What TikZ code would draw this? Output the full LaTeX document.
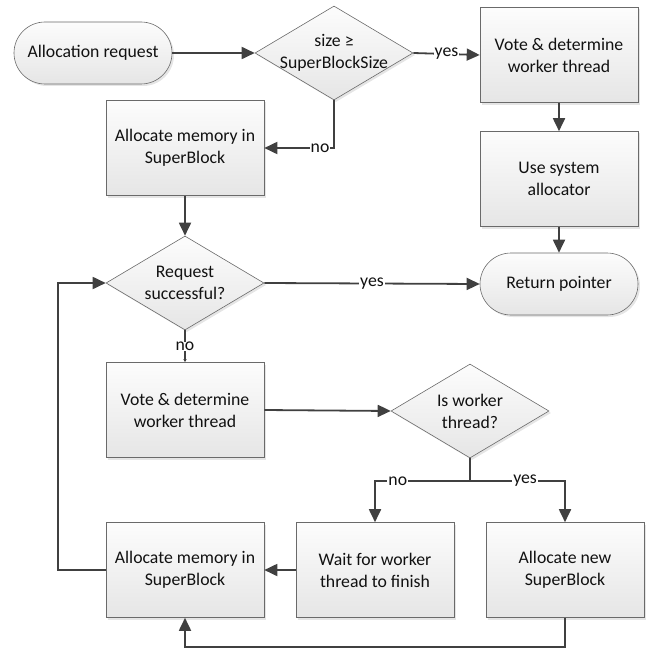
\documentclass[tikz,border=0pt]{standalone}
\usepackage{fontspec}
\setmainfont{Carlito}
\usetikzlibrary{arrows.meta,shapes.geometric,shadows}
\newcommand\myfs{\fontsize{17.8}{22}\selectfont}
\definecolor{linec}{HTML}{404040}
\definecolor{borderc}{HTML}{6A6A6A}
\definecolor{txtc}{HTML}{111111}
\tikzset{
  shade box/.style={draw=borderc, line width=0.6bp, top color=black!1, bottom color=black!10,
    drop shadow={shadow xshift=2bp, shadow yshift=-2bp, fill=black!10, opacity=1}},
  stepbox/.style={shade box, rectangle, minimum width=158bp, minimum height=95bp, inner sep=0pt,
    align=center, font=\myfs, text=txtc},
  terminal/.style={shade box, rectangle, rounded corners=31bp, minimum width=158bp, minimum height=62bp,
    inner sep=0pt, align=center, font=\myfs, text=txtc},
  decision/.style={shade box, diamond, minimum width=158bp, minimum height=94bp, inner sep=0pt},
  dtext/.style={align=center, font=\myfs, text=txtc},
  conn/.style={draw=linec, line width=1.8bp, -{Triangle[length=13bp,width=12bp]}},
  lbl/.style={font=\myfs, text=txtc, fill=white, inner sep=1bp},
}
\begin{document}
\begin{tikzpicture}[x=1bp,y=-1bp]
\useasboundingbox (0,0) rectangle (659,653);
% nodes
\node[terminal] (start) at (93,53) {Allocation request};
\node[decision] (d1) at (334,53) {};
\node[dtext] at (d1.center) {size ≥\\SuperBlockSize};
\node[stepbox] (vote1) at (559,55) {Vote \& determine\\worker thread};
\node[stepbox] (sys) at (559,179) {Use system\\allocator};
\node[terminal] (ret) at (559,284) {Return pointer};
\node[stepbox] (alloc1) at (185,148) {Allocate memory in\\SuperBlock};
\node[decision] (d2) at (185,283) {};
\node[dtext] at (d2.center) {Request\\successful?};
\node[stepbox] (vote2) at (185,410) {Vote \& determine\\worker thread};
\node[decision] (d3) at (470,411) {};
\node[dtext] at (d3.center) {Is worker\\thread?};
\node[stepbox] (wait) at (375,570) {Wait for worker\\thread to finish};
\node[stepbox] (anew) at (565,570) {Allocate new\\SuperBlock};
\node[stepbox] (alloc2) at (185,570) {Allocate memory in\\SuperBlock};
\coordinate (br) at (470,481);
\coordinate (bot) at (185,647);
\coordinate (loop) at (58,283);
% connectors
\draw[conn] (start.east) -- (d1.west);
\draw[conn] (d1.east) -- node[lbl, pos=0.5] {yes} (vote1.west);
\draw[conn] (d1.south) |- node[lbl, pos=0.6] {no} (alloc1.east);
\draw[conn] (vote1) -- (sys);
\draw[conn] (sys) -- (ret);
\draw[conn] (alloc1) -- (d2);
\draw[conn] (d2.east) -- node[lbl] {yes} (ret.west);
\draw[draw=linec, line width=1.8bp, -{Triangle[length=3bp,width=3bp]}] (d2.south) -- node[lbl, inner sep=0pt] {no} (vote2.north);
\draw[conn] (vote2.east) -- (d3.west);
\draw[draw=linec, line width=1.8bp] (d3.south) -- (br);
\draw[conn] (br) -| node[lbl, pos=0.38] {no} (wait.north);
\draw[conn] (br) -| node[lbl, pos=0.29] {yes} (anew.north);
\draw[conn] (wait.west) -- (alloc2.east);
\draw[conn] (anew.south) |- (bot) -- (alloc2.south);
\draw[conn] (alloc2.west) -| (loop) -- (d2.west);
\end{tikzpicture}
\end{document}
